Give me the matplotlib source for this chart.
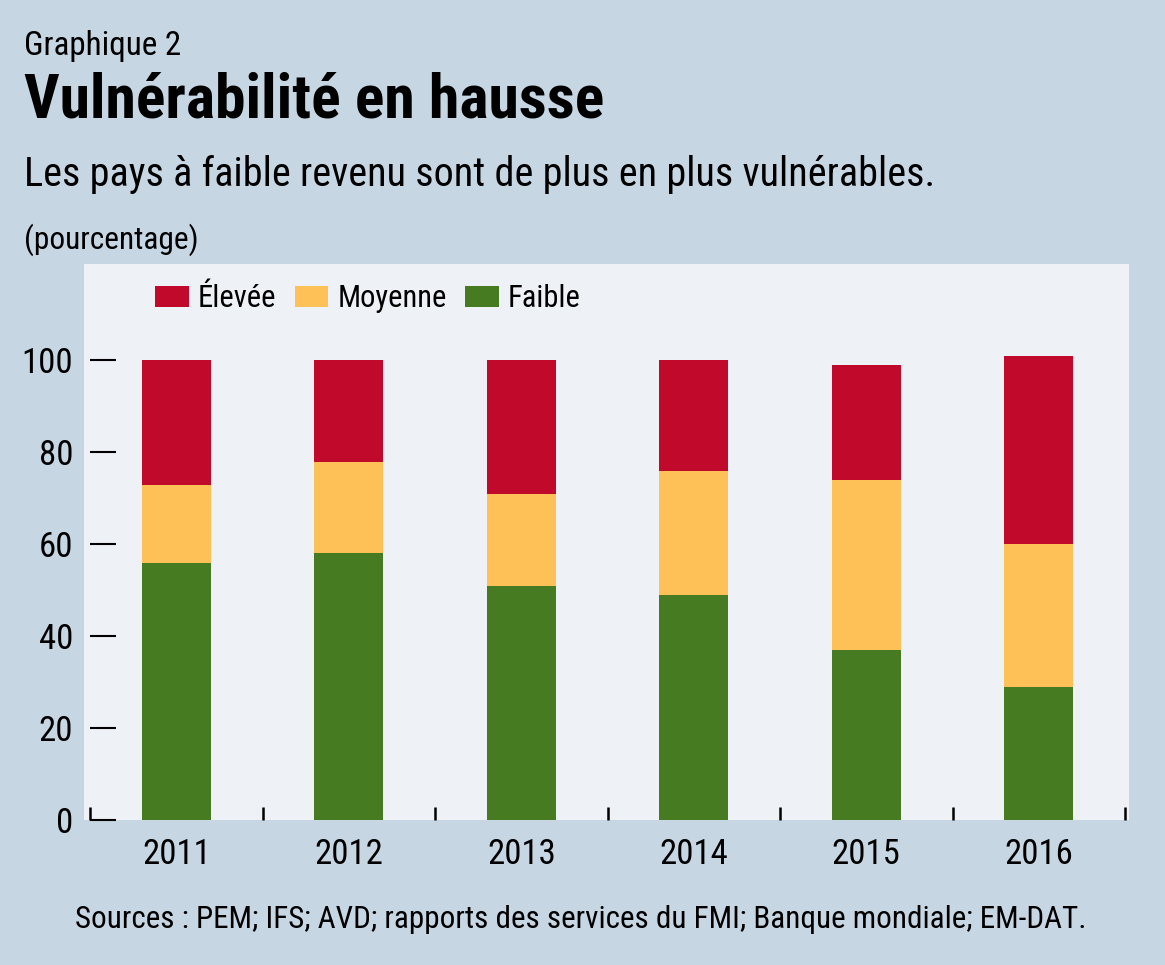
import matplotlib
matplotlib.use("Agg")
import matplotlib.pyplot as plt
import numpy as np

# data (percent of countries)
years = ["2011", "2012", "2013", "2014", "2015", "2016"]
faible = [56, 58, 51, 49, 37, 29]
moyenne = [17, 20, 20, 27, 37, 31]
elevee = [27, 22, 29, 24, 25, 41]

BG = "#c6d7e3"
PANEL = "#eef2f7"
RED = "#c1092b"
YELLOW = "#fdc157"
GREEN = "#467b22"

plt.rcParams['font.family'] = ['Roboto Condensed', 'Archivo Narrow', 'PT Sans Narrow', 'DejaVu Sans']

fig = plt.figure(figsize=(11.65, 9.65), dpi=100, facecolor=BG)
ax = fig.add_axes([0.0721, 0.1503, 0.897, 0.5762])
ax.set_facecolor(PANEL)

x = np.arange(len(years))
w = 0.40
ax.bar(x, faible, w, color=GREEN, label="Faible")
ax.bar(x, moyenne, w, bottom=faible, color=YELLOW, label="Moyenne")
ax.bar(x, elevee, w, bottom=np.add(faible, moyenne), color=RED, label="Élevée")

ax.set_xlim(-0.535, 5.523)
ax.set_ylim(0, 121)

for s in ax.spines.values():
    s.set_visible(False)
ax.spines['left'].set_position(('data', -0.5))

ax.set_yticks([0, 20, 40, 60, 80, 100])
ax.tick_params(axis='y', direction='in', length=18.7, width=1.5, color='black',
               labelsize=25, pad=12)
ax.set_xticks(x)
ax.set_xticklabels(years)
ax.set_xticks(np.arange(-0.5, 6.0, 1.0), minor=True)
ax.tick_params(axis='x', which='major', length=0, labelsize=25, pad=13)
ax.tick_params(axis='x', which='minor', direction='in', length=9.4, width=1.8, color='black')

# legend order: Élevée, Moyenne, Faible
handles, labels = ax.get_legend_handles_labels()
ax.legend(handles[::-1], labels[::-1], loc='upper left', ncol=3, frameon=False,
          fontsize=22, bbox_to_anchor=(0.0416, 1.013), handlelength=1.1, handleheight=0.69,
          handletextpad=0.3, columnspacing=0.6)

fig.text(0.0206, 0.943, "Graphique 2", fontsize=23.8, va='baseline')
fig.text(0.0206, 0.878, "Vulnérabilité en hausse", fontsize=44.4, fontweight='bold', va='baseline')
fig.text(0.0206, 0.807, "Les pays à faible revenu sont de plus en plus vulnérables.", fontsize=28.9, va='baseline')
fig.text(0.0206, 0.742, "(pourcentage)", fontsize=22.6, va='baseline')
fig.text(0.4983, 0.038, "Sources : PEM; IFS; AVD; rapports des services du FMI; Banque mondiale; EM-DAT.",
         fontsize=22.4, ha='center', va='baseline')

fig.savefig("out.png", dpi=100, facecolor=BG)
